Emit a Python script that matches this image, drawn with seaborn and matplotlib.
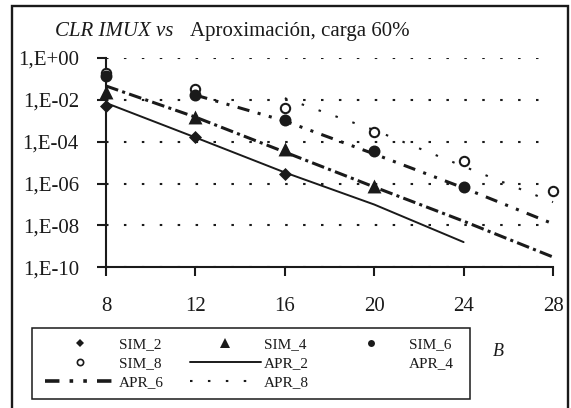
import matplotlib
matplotlib.use("Agg")
import matplotlib.pyplot as plt
from matplotlib.lines import Line2D
from matplotlib.patches import Rectangle
from matplotlib.ticker import FixedLocator, FixedFormatter, NullLocator
import seaborn as sns

# Simulated cell loss ratio (CLR) of the IMUX, by buffer size B
b_sim2 = [8, 12, 16]
sim2 = [5.0e-3, 1.6e-4, 3.0e-6]
b_sim4 = [8, 12, 16, 20]
sim4 = [2.5e-2, 1.6e-3, 4.5e-5, 7.5e-7]
b_sim6 = [8, 12, 16, 20, 24]
sim6 = [1.4e-1, 1.7e-2, 1.1e-3, 3.7e-5, 7.0e-7]
b_sim8 = [8, 12, 16, 20, 24, 28]
sim8 = [2.0e-1, 3.3e-2, 4.0e-3, 2.8e-4, 1.2e-5, 4.6e-7]

# Analytical approximation
b_apr2 = [8, 12, 16, 20, 24]
apr2 = [7.1e-3, 1.6e-4, 3.4e-6, 1.0e-7, 1.6e-9]
b_apr4 = [8, 12, 16, 20, 24, 28]
apr4 = [4.6e-2, 1.5e-3, 3.2e-5, 6.9e-7, 1.6e-8, 3.1e-10]
b_apr6 = [12, 16, 20, 24, 28]
apr6 = [1.7e-2, 9.8e-4, 2.6e-5, 6.2e-7, 1.2e-8]
b_apr8 = [16, 20, 24, 28]
apr8 = [1.2e-2, 3.6e-4, 6.6e-6, 1.3e-7]

x_ticks = [8, 12, 16, 20, 24, 28]
y_ticks = [1e0, 1e-2, 1e-4, 1e-6, 1e-8, 1e-10]
y_tick_labels = ["1,E+00", "1,E-02", "1,E-04", "1,E-06", "1,E-08", "1,E-10"]

sns.set_theme(style="white")
plt.rcParams["font.family"] = ["Liberation Serif", "DejaVu Serif"]

W, H = 571, 408
fig = plt.figure(figsize=(W / 100, H / 100), dpi=100)
fig.patch.set_facecolor("white")

left, right, top, bottom = 106, 553, 58, 267.3
ax = fig.add_axes([left / W, 1 - bottom / H, (right - left) / W, (bottom - top) / H])
ax.set_facecolor("white")
ax.set_yscale("log")
ax.set_xlim(8, 28)
ax.set_ylim(1e-10, 1)

# line styles
style_apr4 = (0, (4.2, 1.4, 1.0, 1.4))
style_apr6 = (0, (4.0, 2.8, 1.0, 2.8, 1.0, 2.8))
style_apr8 = (0, (1.2, 7.4))

sns.lineplot(x=b_apr2, y=apr2, ax=ax, color="k", lw=1.4, linestyle="-",
             clip_on=False, zorder=2)
sns.lineplot(x=b_apr4, y=apr4, ax=ax, color="k", lw=2.2, linestyle=style_apr4,
             clip_on=False, zorder=2)
sns.lineplot(x=b_apr6, y=apr6, ax=ax, color="k", lw=2.2, linestyle=style_apr6,
             clip_on=False, zorder=2)
sns.lineplot(x=b_apr8, y=apr8, ax=ax, color="k", lw=1.5, linestyle=style_apr8,
             clip_on=False, zorder=2)

sns.scatterplot(x=b_sim2, y=sim2, ax=ax, marker="D", s=44, color="k",
                edgecolor="k", linewidth=0, clip_on=False, zorder=4, legend=False)
sns.scatterplot(x=b_sim4, y=sim4, ax=ax, marker="^", s=100, color="k",
                edgecolor="k", linewidth=0, clip_on=False, zorder=4, legend=False)
sns.scatterplot(x=b_sim8, y=sim8, ax=ax, marker="o", s=45, color="white",
                edgecolor="k", linewidth=1.5, clip_on=False, zorder=3, legend=False)
sns.scatterplot(x=b_sim6, y=sim6, ax=ax, marker="o", s=74, color="k",
                edgecolor="k", linewidth=0, clip_on=False, zorder=4, legend=False)

# axes and ticks
ax.xaxis.set_major_locator(FixedLocator(x_ticks))
ax.xaxis.set_minor_locator(NullLocator())
ax.yaxis.set_major_locator(FixedLocator(y_ticks))
ax.yaxis.set_major_formatter(FixedFormatter(y_tick_labels))
ax.yaxis.set_minor_locator(NullLocator())
ax.set_xticklabels([str(v) for v in x_ticks])

for side in ("top", "right"):
    ax.spines[side].set_visible(False)
for side in ("left", "bottom"):
    ax.spines[side].set_color("k")
    ax.spines[side].set_linewidth(1.5)

ax.tick_params(axis="both", direction="out", length=6.5, width=1.5, color="k",
               labelsize=15, labelcolor="k")
ax.tick_params(axis="x", pad=15)
ax.tick_params(axis="y", pad=13)
ax.tick_params(which="both", bottom=True, left=True)

ax.grid(axis="y", color="k", lw=1.5, linestyle=style_apr8)
ax.grid(axis="x", visible=False)
ax.set_axisbelow(True)
ax.set_xlabel("")
ax.set_ylabel("")

# title
fig.text(55 / W, 1 - 36 / H, "CLR IMUX vs", style="italic", fontsize=15,
         va="baseline", ha="left", color="k")
fig.text(190 / W, 1 - 36 / H, "Aproximación, carga 60%", fontsize=15,
         va="baseline", ha="left", color="k")

# axis name
fig.text(498 / W, 1 - 352 / H, "B", style="italic", fontsize=13,
         va="center", ha="center", color="k")

# legend, filled column by column
handles = [
    Line2D([], [], ls="none", marker="D", ms=4, color="k", mew=0),
    Line2D([], [], ls="none", marker="o", ms=4.5, mfc="white", mec="k", mew=1.2),
    Line2D([], [], color="k", lw=2.6, ls=style_apr6),
    Line2D([], [], ls="none", marker="^", ms=6.5, color="k", mew=0),
    Line2D([], [], color="k", lw=1.4),
    Line2D([], [], color="k", lw=1.5, ls=style_apr8),
    Line2D([], [], ls="none", marker="o", ms=5, color="k", mew=0),
    Line2D([], [], ls="none"),
]
labels = ["SIM_2", "SIM_8", "APR_6", "SIM_4", "APR_2", "APR_8", "SIM_6", "APR_4"]
leg = fig.legend(handles, labels, ncol=3, loc="upper left",
                 bbox_to_anchor=(36 / W, 1 - 328 / H, (463 - 36) / W, 0),
                 mode="expand", frameon=False, fontsize=11, handlelength=4.6,
                 handletextpad=0.2, borderpad=0.6, labelspacing=0.36,
                 borderaxespad=0, numpoints=1)
for t in leg.get_texts():
    t.set_color("k")

# legend box
fig.patches.append(Rectangle((32 / W, 1 - 399 / H), (470 - 32) / W, (399 - 328) / H,
                             transform=fig.transFigure, fill=False, lw=1.1,
                             ec="k", zorder=9))

# outer frame
fig.patches.append(Rectangle((12 / W, -0.05), (568 - 12) / W, 1.05 - 6 / H,
                             transform=fig.transFigure, fill=False, lw=1.7,
                             ec="k", zorder=10))

fig.savefig("out.png", dpi=100, facecolor="white")
